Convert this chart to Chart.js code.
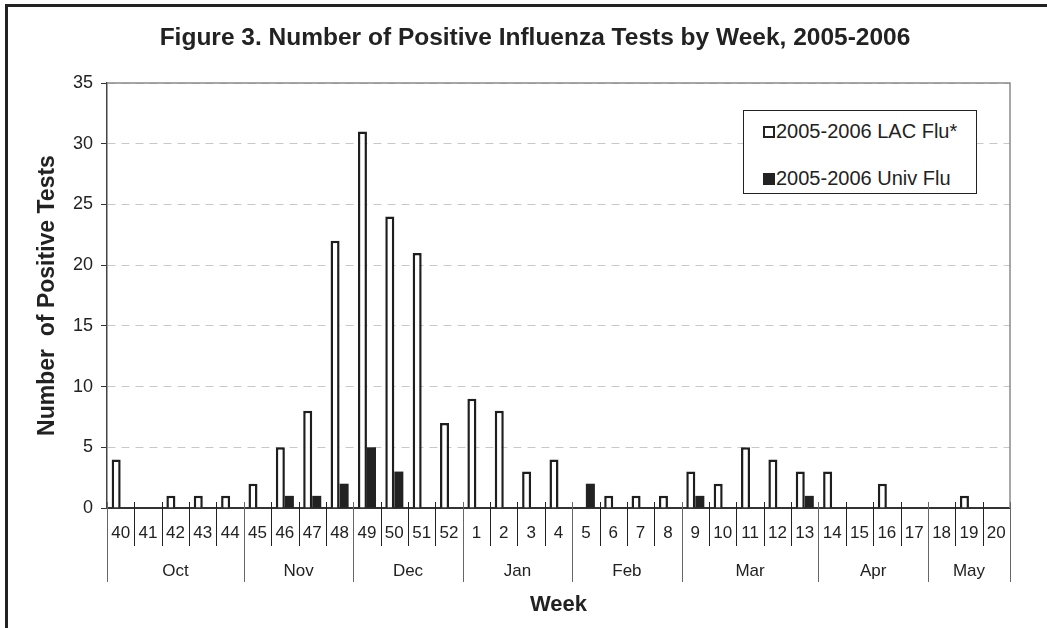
<!DOCTYPE html>
<html>
<head>
<meta charset="utf-8">
<script src="https://cdn.jsdelivr.net/npm/chart.js@4/dist/chart.umd.min.js"></script>
<style>
    html, body { margin: 0; padding: 0; background: #fff; overflow: hidden; }
    #wrap { position: relative; width: 1047px; height: 628px; }
    #frame { position: absolute; left: 5px; top: 4px; width: 2000px; height: 2000px; border: 3px solid #222; box-sizing: border-box; }
    #fluChart { position: absolute; left: 0; top: 0; }
    #legend {
        position: absolute; left: 743px; top: 110px; width: 234px; height: 84px;
        border: 1px solid #222; box-sizing: border-box; background: #fff;
        font-family: 'Liberation Sans', Arial, sans-serif; font-size: 20px; color: #222;
    }
    .legend-item { position: absolute; left: 19px; display: flex; align-items: center; white-space: nowrap; }
    .legend-box { width: 8px; height: 8px; border: 2px solid #222; margin-right: 1px; }
</style>
</head>
<body>
<div id="wrap">
    <div id="frame"></div>
    <canvas id="fluChart" width="1047" height="628"></canvas>
    <div id="legend">
        <div class="legend-item" style="top: 9px;"><span class="legend-box" style="background:#fff;"></span>2005-2006 LAC Flu*</div>
        <div class="legend-item" style="top: 56px;"><span class="legend-box" style="background:#222;"></span>2005-2006 Univ Flu</div>
    </div>
</div>
<script>
const weeks = ['40', '41', '42', '43', '44', '45', '46', '47', '48', '49', '50', '51', '52',
    '1', '2', '3', '4', '5', '6', '7', '8', '9', '10', '11', '12', '13', '14', '15', '16', '17', '18', '19', '20'];
const monthNames = ['Oct', 'Nov', 'Dec', 'Jan', 'Feb', 'Mar', 'Apr', 'May'];
const weeksPerMonth = [5, 4, 4, 4, 4, 5, 4, 3];
const lacFlu = [4, 0, 1, 1, 1, 2, 5, 8, 22, 31, 24, 21, 7,
    9, 8, 3, 4, 0, 1, 1, 1, 3, 2, 5, 4, 3, 3, 0, 2, 0, 0, 1, 0];
const univFlu = [0, 0, 0, 0, 0, 0, 1, 1, 2, 5, 3, 0, 0,
    0, 0, 0, 0, 2, 0, 0, 0, 1, 0, 0, 0, 1, 0, 0, 0, 0, 0, 0, 0];
const yTicks = [0, 5, 10, 15, 20, 25, 30, 35];

const FONT = "'Liberation Sans', Arial, sans-serif";
const TEXT = '#222';

// draws the plot border, the week / month separators, month names and the title
const decorPlugin = {
    id: 'decor',
    afterDraw(chart) {
        const ctx = chart.ctx;
        const area = chart.chartArea;
        const xs = chart.scales.x;
        const step = xs.getPixelForValue(1) - xs.getPixelForValue(0);
        const edge = k => xs.getPixelForValue(0) - step / 2 + k * step;
        const axisY = area.bottom;

        ctx.save();
        // plot area top / right border
        ctx.strokeStyle = '#8a8a8a';
        ctx.lineWidth = 1.5;
        ctx.beginPath();
        ctx.moveTo(area.left, area.top);
        ctx.lineTo(area.right, area.top);
        ctx.lineTo(area.right, axisY);
        ctx.stroke();

        // month boundaries
        const bounds = [0];
        weeksPerMonth.forEach(n => bounds.push(bounds[bounds.length - 1] + n));

        ctx.lineWidth = 1;
        ctx.strokeStyle = '#222';
        for (let k = 1; k < weeks.length; k++) {
            if (bounds.includes(k)) continue;
            const x = Math.round(edge(k)) + 0.5;
            ctx.beginPath();
            ctx.moveTo(x, axisY - 6);
            ctx.lineTo(x, axisY + 38);
            ctx.stroke();
        }
        ctx.strokeStyle = '#666';
        bounds.forEach(k => {
            const x = Math.round(edge(k)) + 0.5;
            ctx.beginPath();
            ctx.moveTo(x, axisY - 6);
            ctx.lineTo(x, axisY + 74);
            ctx.stroke();
        });

        // month names
        ctx.fillStyle = TEXT;
        ctx.font = '17px ' + FONT;
        ctx.textAlign = 'center';
        ctx.textBaseline = 'middle';
        monthNames.forEach((m, i) => {
            const x = (edge(bounds[i]) + edge(bounds[i + 1])) / 2;
            ctx.fillText(m, x, axisY + 63);
        });

        // chart title
        ctx.font = 'bold 24.5px ' + FONT;
        ctx.fillText('Figure 3. Number of Positive Influenza Tests by Week, 2005-2006', 535, 38);
        ctx.restore();
    }
};

const ctx = document.getElementById('fluChart').getContext('2d');
const fluChart = new Chart(ctx, {
    type: 'bar',
    data: {
        labels: weeks,
        datasets: [
            {
                label: '2005-2006 LAC Flu*',
                data: lacFlu,
                backgroundColor: '#fff',
                borderColor: '#1e1e1e',
                borderWidth: 2.5
            },
            {
                label: '2005-2006 Univ Flu',
                data: univFlu,
                backgroundColor: '#222',
                borderWidth: 0
            }
        ]
    },
    options: {
        responsive: false,
        animation: false,
        devicePixelRatio: 1,
        layout: { padding: { left: 0, top: 83, right: 37, bottom: 0 } },
        datasets: { bar: { categoryPercentage: 0.66, barPercentage: 1.0 } },
        plugins: {
            legend: { display: false },
            title: { display: false },
            tooltip: { enabled: false }
        },
        scales: {
            x: {
                offset: true,
                grid: { display: false, drawTicks: false },
                border: { display: true, color: '#333', width: 2 },
                ticks: {
                    color: TEXT,
                    font: { family: FONT, size: 17 },
                    padding: 15,
                    maxRotation: 0,
                    autoSkip: false
                },
                title: {
                    display: true,
                    text: 'Week',
                    color: TEXT,
                    font: { family: FONT, size: 22, weight: 'bold' },
                    padding: 10
                },
                afterFit(scale) { scale.height = 120; }
            },
            y: {
                min: 0,
                max: 35,
                afterBuildTicks(scale) { scale.ticks = yTicks.map(v => ({ value: v })); },
                grid: {
                    color: '#c8c8c8',
                    tickLength: 6,
                    tickColor: '#333',
                    tickBorderDash: []
                },
                border: { display: true, color: '#444', width: 1.5, dash: [8, 6] },
                ticks: {
                    color: TEXT,
                    font: { family: FONT, size: 18 },
                    padding: 8
                },
                title: {
                    display: true,
                    text: 'Number  of Positive Tests',
                    color: TEXT,
                    font: { family: FONT, size: 23, weight: 'bold' },
                    padding: 34
                },
                afterFit(scale) { scale.width = 107; }
            }
        }
    },
    plugins: [decorPlugin]
});
</script>
</body>
</html>
